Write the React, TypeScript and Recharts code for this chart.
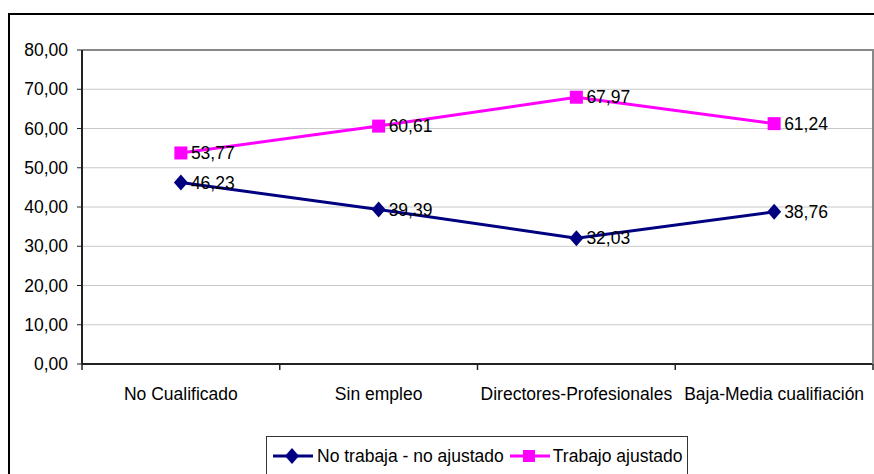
import React from 'react';
import { LineChart, Line, XAxis, YAxis, CartesianGrid, ReferenceLine, LabelList } from 'recharts';

const categories = ['No Cualificado', 'Sin empleo', 'Directores-Profesionales', 'Baja-Media cualifiación'];
const noTrabaja = [46.23, 39.39, 32.03, 38.76];
const trabajoAjustado = [53.77, 60.61, 67.97, 61.24];
const yTicks = [0, 10, 20, 30, 40, 50, 60, 70, 80];

const NAVY = '#000080';
const MAGENTA = '#ff00ff';
const FONT = "'Liberation Sans', Arial, sans-serif";
const FS = 17.5;

const data = categories.map((c, i) => ({ cat: c, a: noTrabaja[i], b: trabajoAjustado[i] }));

const fmt = (v: number) => v.toFixed(2).replace('.', ',');

const Diamond = (props: any) => {
  const { cx, cy, fill } = props;
  if (cx == null || cy == null) return null;
  return <polygon points={`${cx},${cy - 8} ${cx + 7},${cy} ${cx},${cy + 8} ${cx - 7},${cy}`} fill={fill} />;
};

const Square = (props: any) => {
  const { cx, cy, fill } = props;
  if (cx == null || cy == null) return null;
  return <rect x={cx - 6.5} y={cy - 6.5} width={13} height={13} fill={fill} />;
};

// category label + tick marks at band edges (excel style)
const CatTick = (props: any) => {
  const { x, y, payload, index } = props;
  const half = payload?.offset ?? 0;
  return (
    <g>
      <line x1={x - half} y1={y} x2={x - half} y2={y + 6} stroke="#222" strokeWidth={1.5} />
      {index === categories.length - 1 && (
        <line x1={x + half} y1={y} x2={x + half} y2={y + 6} stroke="#222" strokeWidth={1.5} />
      )}
      <text x={x} y={y + 24} dy="0.71em" textAnchor="middle" fontFamily={FONT} fontSize={FS} fill="#000">
        {payload.value}
      </text>
    </g>
  );
};

function LegendBox() {
  return (
    <div style={{ position: 'absolute', left: 266, top: 436, width: 420, height: 50, border: '1px solid #333', background: '#fff', fontFamily: FONT, fontSize: 17.5, color: '#000', whiteSpace: 'nowrap' }}>
      <div style={{ display: 'flex', alignItems: 'center', height: 38, paddingLeft: 5 }}>
        <svg width={42} height={20}>
          <line x1={1} y1={10} x2={41} y2={10} stroke={NAVY} strokeWidth={3} />
          <polygon points="20,2 27,10 20,18 13,10" fill={NAVY} />
        </svg>
        <span style={{ marginLeft: 3 }}>No trabaja - no ajustado</span>
        <svg width={42} height={20} style={{ marginLeft: 5 }}>
          <line x1={1} y1={10} x2={41} y2={10} stroke={MAGENTA} strokeWidth={3} />
          <rect x={14} y={4} width={12} height={12} fill={MAGENTA} />
        </svg>
        <span style={{ marginLeft: 2 }}>Trabajo ajustado</span>
      </div>
    </div>
  );
}

export default function App() {
  return (
    <div style={{ position: 'absolute', left: 0, top: 0, width: 874, height: 474, overflow: 'hidden', background: '#fff' }}>
      <div style={{ position: 'absolute', left: 8, top: 13, width: 900, height: 500, border: '2px solid #000' }} />
      <div style={{ position: 'absolute', left: 0, top: 0 }}>
        <LineChart width={874} height={474} data={data} margin={{ top: 50, right: 1, left: 0, bottom: 60 }}>
          <CartesianGrid vertical={false} stroke="#c8c8c8" strokeWidth={1} />
          <XAxis dataKey="cat" scale="band" tickLine={false} tickSize={0} tickMargin={0} height={50} interval={0}
            axisLine={{ stroke: '#222', strokeWidth: 2 }} tick={<CatTick />} />
          <YAxis domain={[0, 80]} ticks={yTicks} width={82} tickSize={5} tickMargin={9} tickFormatter={fmt}
            axisLine={{ stroke: '#222', strokeWidth: 2 }} tickLine={{ stroke: '#222' }}
            tick={{ fontFamily: FONT, fontSize: FS, fill: '#000' }} />
          <ReferenceLine y={80} stroke="#888" strokeWidth={2} />
          <Line dataKey="a" stroke={NAVY} strokeWidth={3} dot={<Diamond fill={NAVY} />} isAnimationActive={false}>
            <LabelList dataKey="a" position="right" offset={10} formatter={(v: any) => fmt(Number(v))}
              style={{ fontFamily: FONT, fontSize: FS, fill: '#000' }} />
          </Line>
          <Line dataKey="b" stroke={MAGENTA} strokeWidth={3} dot={<Square fill={MAGENTA} />} isAnimationActive={false}>
            <LabelList dataKey="b" position="right" offset={10} formatter={(v: any) => fmt(Number(v))}
              style={{ fontFamily: FONT, fontSize: FS, fill: '#000' }} />
          </Line>
        </LineChart>
      </div>
      <div style={{ position: 'absolute', left: 872, top: 49, width: 2, height: 315, background: '#888' }} />
      <LegendBox />
    </div>
  );
}
